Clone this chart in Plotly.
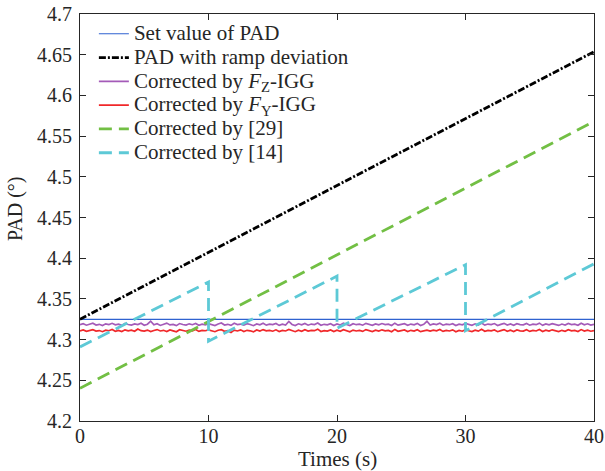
import numpy as np
import plotly.graph_objects as go

# time axis (s) and series
t_noise = np.arange(161) * 0.25

set_value_x = [0, 40]
set_value_y = [4.3248, 4.3248]

ramp_x = [0, 40]
ramp_y = [4.325, 4.6537]

ref29_x = [0, 40]
ref29_y = [4.2402, 4.568]

ref14_x = [0, 10, 10, 20, 20, 30, 30, 40]
ref14_y = [4.291, 4.3708, 4.298, 4.378, 4.314, 4.392, 4.311, 4.393]

fz_igg = [
    4.3183, 4.3196, 4.3177, 4.3191, 4.3202, 4.3179, 4.3188, 4.3173, 4.3194, 4.3185, 4.3200, 4.3181, 4.3190, 4.3175, 4.3198, 4.3186, 4.3178, 4.3193, 4.3184, 4.3201,
    4.3176, 4.3189, 4.3227, 4.3182, 4.3195, 4.3174, 4.3191, 4.3203, 4.3180, 4.3187, 4.3172, 4.3197, 4.3185, 4.3178, 4.3194, 4.3183, 4.3199, 4.3176, 4.3190, 4.3181,
    4.3196, 4.3185, 4.3173, 4.3192, 4.3204, 4.3179, 4.3188, 4.3175, 4.3200, 4.3184, 4.3191, 4.3177, 4.3195, 4.3186, 4.3171, 4.3193, 4.3182, 4.3202, 4.3178, 4.3189,
    4.3184, 4.3198, 4.3175, 4.3190, 4.3180, 4.3223, 4.3186, 4.3173, 4.3194, 4.3181, 4.3199, 4.3177, 4.3191, 4.3185, 4.3203, 4.3176, 4.3188, 4.3182, 4.3196, 4.3174,
    4.3192, 4.3179, 4.3201, 4.3185, 4.3172, 4.3195, 4.3183, 4.3189, 4.3177, 4.3200, 4.3186, 4.3175, 4.3193, 4.3181, 4.3197, 4.3184, 4.3190, 4.3173, 4.3202, 4.3178,
    4.3187, 4.3195, 4.3176, 4.3191, 4.3182, 4.3199, 4.3174, 4.3188, 4.3225, 4.3180, 4.3193, 4.3185, 4.3201, 4.3177, 4.3190, 4.3183, 4.3196, 4.3172, 4.3189, 4.3181,
    4.3198, 4.3186, 4.3175, 4.3194, 4.3180, 4.3203, 4.3178, 4.3191, 4.3184, 4.3197, 4.3173, 4.3187, 4.3200, 4.3179, 4.3192, 4.3176, 4.3195, 4.3185, 4.3182, 4.3199,
    4.3177, 4.3190, 4.3183, 4.3202, 4.3175, 4.3193, 4.3181, 4.3196, 4.3186, 4.3174, 4.3191, 4.3179, 4.3198, 4.3184, 4.3189, 4.3176, 4.3201, 4.3182, 4.3194, 4.3178,
    4.3187,
]

fy_igg = [
    4.3108, 4.3118, 4.3101, 4.3114, 4.3122, 4.3105, 4.3111, 4.3097, 4.3116, 4.3109, 4.3124, 4.3103, 4.3113, 4.3099, 4.3120, 4.3107, 4.3115, 4.3102, 4.3131, 4.3110,
    4.3104, 4.3117, 4.3098, 4.3112, 4.3123, 4.3106, 4.3114, 4.3100, 4.3119, 4.3108, 4.3096, 4.3121, 4.3111, 4.3103, 4.3116, 4.3107, 4.3125, 4.3101, 4.3113, 4.3109,
    4.3118, 4.3105, 4.3097, 4.3115, 4.3122, 4.3102, 4.3110, 4.3088, 4.3117, 4.3106, 4.3120, 4.3100, 4.3114, 4.3108, 4.3095, 4.3119, 4.3104, 4.3123, 4.3107, 4.3112,
    4.3103, 4.3120, 4.3099, 4.3113, 4.3106, 4.3124, 4.3109, 4.3097, 4.3116, 4.3102, 4.3121, 4.3105, 4.3114, 4.3110, 4.3128, 4.3100, 4.3111, 4.3104, 4.3118, 4.3098,
    4.3115, 4.3103, 4.3122, 4.3108, 4.3096, 4.3117, 4.3106, 4.3113, 4.3101, 4.3123, 4.3109, 4.3099, 4.3116, 4.3105, 4.3120, 4.3107, 4.3112, 4.3097, 4.3125, 4.3102,
    4.3111, 4.3119, 4.3100, 4.3114, 4.3105, 4.3122, 4.3098, 4.3110, 4.3117, 4.3104, 4.3115, 4.3108, 4.3124, 4.3101, 4.3113, 4.3106, 4.3120, 4.3096, 4.3112, 4.3103,
    4.3121, 4.3109, 4.3099, 4.3116, 4.3104, 4.3126, 4.3102, 4.3114, 4.3107, 4.3119, 4.3097, 4.3110, 4.3123, 4.3103, 4.3115, 4.3100, 4.3118, 4.3108, 4.3105, 4.3122,
    4.3101, 4.3113, 4.3106, 4.3124, 4.3099, 4.3116, 4.3104, 4.3120, 4.3109, 4.3098, 4.3114, 4.3102, 4.3121, 4.3107, 4.3112, 4.3100, 4.3123, 4.3105, 4.3117, 4.3103,
    4.3110,
]

x_ticks = [0, 10, 20, 30, 40]
y_ticks = [4.2, 4.25, 4.3, 4.35, 4.4, 4.45, 4.5, 4.55, 4.6, 4.65, 4.7]
y_tick_text = ["4.2", "4.25", "4.3", "4.35", "4.4", "4.45", "4.5", "4.55", "4.6", "4.65", "4.7"]

FONT = "Liberation Serif, Times New Roman, serif"
INK = "#262626"


def big(label):
    # legend rows stay tight (spacing from the 16px legend font), text drawn larger
    return f'<span style="font-size:21px">{label}</span>'


fig = go.Figure()

fig.add_trace(go.Scatter(
    x=set_value_x, y=set_value_y, mode="lines",
    name=big("Set value of PAD"),
    line=dict(color="#2F62D0", width=1.2),
))
fig.add_trace(go.Scatter(
    x=ramp_x, y=ramp_y, mode="lines",
    name=big("PAD with ramp deviation"),
    line=dict(color="black", width=2.8, dash="7px,2px,2px,2px"),
))
fig.add_trace(go.Scatter(
    x=t_noise, y=fz_igg, mode="lines",
    name=big("Corrected by <i>F</i><sub>Z</sub>-IGG"),
    line=dict(color="#A45BB8", width=1.7),
))
fig.add_trace(go.Scatter(
    x=t_noise, y=fy_igg, mode="lines",
    name=big("Corrected by <i>F</i><sub>Y</sub>-IGG"),
    line=dict(color="#F0282A", width=1.7),
))
fig.add_trace(go.Scatter(
    x=ref29_x, y=ref29_y, mode="lines",
    name=big("Corrected by [29]"),
    line=dict(color="#72BF44", width=2.8, dash="13px,7px"),
))
fig.add_trace(go.Scatter(
    x=ref14_x, y=ref14_y, mode="lines",
    name=big("Corrected by [14]"),
    line=dict(color="#5DC9D6", width=2.8, dash="13px,7px"),
))

axis_common = dict(
    showline=True, linecolor=INK, linewidth=1, mirror="ticks",
    ticks="inside", ticklen=6, tickcolor=INK,
    showgrid=False, zeroline=False,
    tickfont=dict(family=FONT, size=20, color=INK),
)

fig.update_xaxes(range=[0, 40], tickvals=x_ticks, ticklabelstandoff=-3, **axis_common)
fig.update_yaxes(
    range=[4.2, 4.7], tickvals=y_ticks, ticktext=y_tick_text,
    ticklabelstandoff=3, **axis_common,
)

# axis titles placed as annotations so they sit where the reference has them
fig.add_annotation(
    text="Times (s)", xref="paper", yref="paper", x=0.5, y=-50 / 407,
    xanchor="center", yanchor="bottom", yshift=-2, showarrow=False,
    font=dict(family=FONT, size=21, color=INK),
)
fig.add_annotation(
    text="PAD (°)", xref="paper", yref="paper", x=-65 / 514, y=212 / 407,
    xanchor="center", yanchor="middle", textangle=-90, showarrow=False,
    font=dict(family=FONT, size=20, color=INK),
)

fig.update_layout(
    width=605, height=471,
    margin=dict(l=80, r=11, t=14, b=50, autoexpand=False),
    paper_bgcolor="white", plot_bgcolor="white",
    font=dict(family=FONT, color=INK),
    showlegend=True,
    legend=dict(
        x=0.027, y=0.993, xanchor="left", yanchor="top",
        bgcolor="rgba(255,255,255,0)", borderwidth=0,
        font=dict(family=FONT, size=16, color=INK),
        tracegroupgap=0,
    ),
)

# the page's default 8px body margin would push the figure off the window
fig.write_html(
    "out.html",
    config={"displayModeBar": False},
    post_script="document.body.style.margin = '0';",
)
